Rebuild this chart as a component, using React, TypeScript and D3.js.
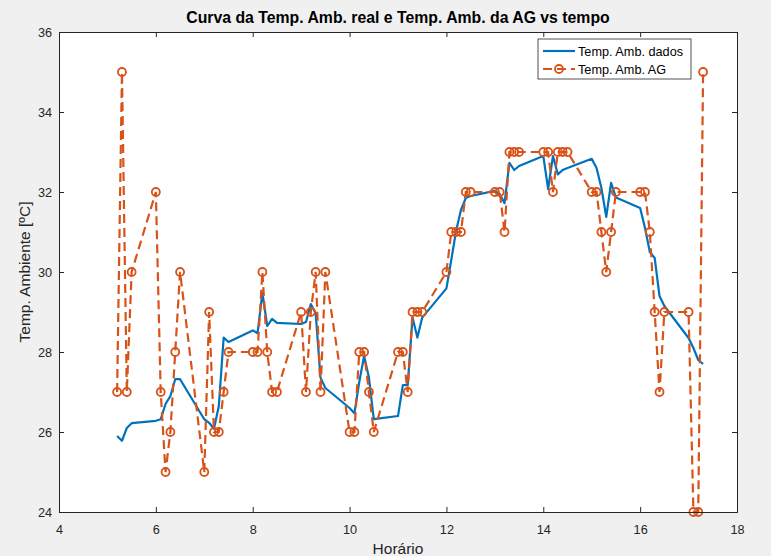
import * as d3 from 'd3';
import React, { useRef, useEffect } from 'react';

// horario (hh.m) e temperaturas
const horario = [
  5.2, 5.3, 5.4, 5.5,
  6.0, 6.1, 6.2, 6.3, 6.4, 6.5,
  7.0, 7.1, 7.2, 7.3, 7.4, 7.5,
  8.0, 8.1, 8.2, 8.3, 8.4, 8.5,
  9.0, 9.1, 9.2, 9.3, 9.4, 9.5,
  10.0, 10.1, 10.2, 10.3, 10.4, 10.5,
  11.0, 11.1, 11.2, 11.3, 11.4, 11.5,
  12.0, 12.1, 12.2, 12.3, 12.4, 12.5,
  13.0, 13.1, 13.2, 13.3, 13.4, 13.5,
  14.0, 14.1, 14.2, 14.3, 14.4, 14.5,
  15.0, 15.1, 15.2, 15.3, 15.4, 15.5,
  16.0, 16.1, 16.2, 16.3, 16.4, 16.5,
  17.0, 17.1, 17.2, 17.3
];

const tempDados = [
  25.9, 25.78, 26.1, 26.22,
  26.28, 26.32, 26.7, 26.9, 27.32, 27.32,
  26.32, 26.23, 26.08, 26.65, 28.36, 28.25,
  28.54, 28.47, 29.48, 28.65, 28.83, 28.73,
  28.7, 28.75, 29.2, 28.97, 27.36, 27.1,
  26.6, 26.47, 27.25, 27.9, 27.36, 26.32,
  26.4, 27.17, 27.17, 28.86, 28.36, 28.86,
  29.59, 30.3, 31.03, 31.55, 31.85, 31.9,
  32.03, 31.95, 31.72, 32.73, 32.55, 32.65,
  32.9, 32.07, 32.9, 32.44, 32.55, 32.6,
  32.83, 32.6, 32.1, 31.38, 32.23, 31.86,
  31.6, 31.1, 30.5, 30.35, 29.4, 29.15,
  28.35, 28.1, 27.8, 27.7
];

const tempAG = [
  27, 35, 27, 30,
  32, 27, 25, 26, 28, 30,
  25, 29, 26, 26, 27, 28,
  28, 28, 30, 28, 27, 27,
  29, 27, 29, 30, 27, 30,
  26, 26, 28, 28, 27, 26,
  28, 28, 27, 29, 29, 29,
  30, 31, 31, 31, 32, 32,
  32, 32, 31, 33, 33, 33,
  33, 33, 32, 33, 33, 33,
  32, 32, 31, 30, 31, 32,
  32, 32, 31, 29, 27, 29,
  29, 24, 24, 35
];

const xTicks = [4, 6, 8, 10, 12, 14, 16, 18];
const yTicks = [24, 26, 28, 30, 32, 34, 36];
const titulo = 'Curva da Temp. Amb. real e Temp. Amb. da AG vs tempo';
const xLabel = 'Horário';
const yLabel = 'Temp. Ambiente [ºC]';
const legenda = ['Temp. Amb. dados', 'Temp. Amb. AG'];

const W = 771;
const H = 556;
const margin = { top: 32, right: 34, bottom: 44, left: 59 };
const FONT = '"Liberation Sans", Arial, Helvetica, sans-serif';
const AXIS = '#262626';
const AZUL = '#0072BD';
const LARANJA = '#D95319';

function Grafico() {
  const svgRef = useRef<SVGSVGElement>(null);

  useEffect(() => {
    const svg = d3.select(svgRef.current);
    svg.selectAll('*').remove();

    const x = d3.scaleLinear([4, 18], [margin.left, W - margin.right]);
    const y = d3.scaleLinear([24, 36], [H - margin.bottom, margin.top]);

    // fundo da figura e da area do grafico
    svg.append('rect').attr('width', W).attr('height', H).attr('fill', '#f0f0f0');
    svg.append('rect')
      .attr('x', x(4)).attr('y', y(36))
      .attr('width', x(18) - x(4)).attr('height', y(24) - y(36))
      .attr('fill', '#fff');

    const dados = horario.map((h, i) => ({ h, real: tempDados[i], ag: tempAG[i] }));

    // curva real
    const linhaReal = d3.line<any>().x(d => x(d.h)).y(d => y(d.real));
    svg.append('path')
      .datum(dados)
      .attr('d', linhaReal)
      .attr('fill', 'none')
      .attr('stroke', AZUL)
      .attr('stroke-width', 2.2)
      .attr('stroke-linejoin', 'round');

    // curva AG tracejada com circulos
    const linhaAG = d3.line<any>().x(d => x(d.h)).y(d => y(d.ag));
    svg.append('path')
      .datum(dados)
      .attr('d', linhaAG)
      .attr('fill', 'none')
      .attr('stroke', LARANJA)
      .attr('stroke-width', 2.2)
      .attr('stroke-dasharray', '9,5');

    svg.append('g')
      .selectAll('circle')
      .data(dados)
      .join('circle')
      .attr('cx', d => x(d.h))
      .attr('cy', d => y(d.ag))
      .attr('r', 4)
      .attr('fill', 'none')
      .attr('stroke', LARANJA)
      .attr('stroke-width', 1.8);

    // eixos (ticks para dentro, caixa fechada)
    const gx = svg.append('g')
      .attr('transform', `translate(0,${H - margin.bottom})`)
      .call(d3.axisBottom(x).tickValues(xTicks).tickSize(-5).tickPadding(13).tickFormat(d3.format('d')));
    const gy = svg.append('g')
      .attr('transform', `translate(${margin.left},0)`)
      .call(d3.axisLeft(y).tickValues(yTicks).tickSize(-5).tickPadding(7).tickFormat(d3.format('d')));
    const gt = svg.append('g')
      .attr('transform', `translate(0,${margin.top})`)
      .call(d3.axisTop(x).tickValues(xTicks).tickSize(-5).tickFormat(() => ''));
    const gr = svg.append('g')
      .attr('transform', `translate(${W - margin.right},0)`)
      .call(d3.axisRight(y).tickValues(yTicks).tickSize(-5).tickFormat(() => ''));

    [gx, gy, gt, gr].forEach(g => {
      g.select('.domain').attr('stroke', AXIS);
      g.selectAll('.tick line').attr('stroke', AXIS);
      g.selectAll('.tick text')
        .attr('fill', AXIS)
        .style('font-family', FONT)
        .style('font-size', '12.7px');
    });

    // titulo e rotulos
    svg.append('text')
      .attr('x', (x(4) + x(18)) / 2)
      .attr('y', 23)
      .attr('text-anchor', 'middle')
      .style('font-family', FONT)
      .style('font-size', '15.8px')
      .style('font-weight', 'bold')
      .attr('fill', '#000')
      .text(titulo);

    svg.append('text')
      .attr('x', (x(4) + x(18)) / 2)
      .attr('y', 554)
      .attr('text-anchor', 'middle')
      .style('font-family', FONT)
      .style('font-size', '15.5px')
      .attr('fill', AXIS)
      .text(xLabel);

    svg.append('text')
      .attr('transform', `translate(30,${(y(24) + y(36)) / 2}) rotate(-90)`)
      .attr('text-anchor', 'middle')
      .style('font-family', FONT)
      .style('font-size', '15.5px')
      .attr('fill', AXIS)
      .text(yLabel);

    // legenda
    const leg = svg.append('g').attr('transform', 'translate(538,39)');
    leg.append('rect')
      .attr('width', 153).attr('height', 40)
      .attr('fill', '#fff').attr('stroke', AXIS).attr('stroke-width', 0.8);
    leg.append('line')
      .attr('x1', 5).attr('x2', 37).attr('y1', 12).attr('y2', 12)
      .attr('stroke', AZUL).attr('stroke-width', 2.2);
    leg.append('line')
      .attr('x1', 5).attr('x2', 37).attr('y1', 30).attr('y2', 30)
      .attr('stroke', LARANJA).attr('stroke-width', 2.2).attr('stroke-dasharray', '9,5');
    leg.append('circle')
      .attr('cx', 21).attr('cy', 30).attr('r', 4)
      .attr('fill', 'none').attr('stroke', LARANJA).attr('stroke-width', 1.8);
    leg.selectAll('text.item')
      .data(legenda)
      .join('text')
      .attr('class', 'item')
      .attr('x', 40)
      .attr('y', (d, i) => 16.5 + i * 18)
      .style('font-family', FONT)
      .style('font-size', '12.7px')
      .attr('fill', '#000')
      .text(d => d);
  });

  return <svg ref={svgRef} width={W} height={H} style={{ position: 'absolute', left: 0, top: 0 }} />;
}

export default function App() {
  return <Grafico />;
}
